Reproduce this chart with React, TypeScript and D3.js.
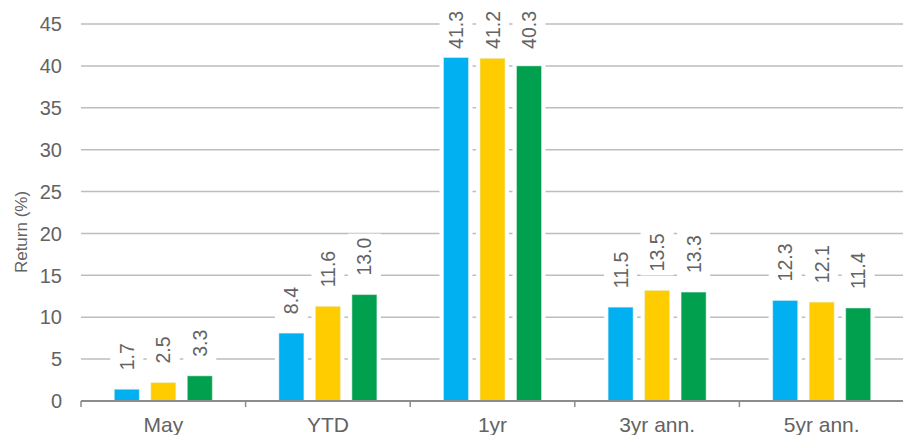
import React from "react";
import * as d3 from "d3";

const categories = ["May", "YTD", "1yr", "3yr ann.", "5yr ann."];
const seriesA = [1.7, 8.4, 41.3, 11.5, 12.3];
const seriesB = [2.5, 11.6, 41.2, 13.5, 12.1];
const seriesC = [3.3, 13.0, 40.3, 13.3, 11.4];
const seriesColors = ["#00b0f0", "#ffcc00", "#00a04f"];
const yTicks = [0, 5, 10, 15, 20, 25, 30, 35, 40, 45];

const W = 903;
const H = 435;
const FONT = "'Liberation Sans', Arial, sans-serif";
const TEXT = "#636363";

export default function App() {
  const series = [seriesA, seriesB, seriesC];
  const y = d3.scaleLinear().domain([0, 45]).range([401, 24]);
  const x = d3.scaleBand<string>().domain(categories).range([81, 904]).paddingInner(0).paddingOuter(0);
  const inner = d3
    .scaleBand<string>()
    .domain(["0", "1", "2"])
    .range([-54.75, 54.75])
    .paddingInner(0.315)
    .paddingOuter(0.1575);
  const bw = inner.bandwidth();
  const labelFont = 19.5;
  const charW = (s: string) =>
    s.split("").reduce((a, c) => a + (c === "." ? 0.278 : 0.556), 0) * labelFont;
  const inset = 2.5;

  const boundaries = categories.map((c) => x(c)!).concat([x(categories[categories.length - 1])! + x.bandwidth()]);

  const marks = categories.flatMap((c, i) =>
    series.map((s, j) => {
      const v = s[i];
      const bx = x(c)! + x.bandwidth() / 2 + inner(String(j))!;
      const top = y(v) + inset;
      const cx = bx + bw / 2;
      const label = v.toFixed(1);
      const len = charW(label);
      const lb = Math.max(top - 19, 11 + len);
      return { key: c + j, j, bx, top, cx, label, len, lb };
    })
  );

  return (
    <svg width={W} height={H} style={{ position: "absolute", left: 0, top: 0 }} fontFamily={FONT}>
      <rect x={0} y={0} width={W} height={H} fill="#fff" />
      {yTicks.filter((t) => t > 0).map((t) => (
        <line key={t} x1={81} x2={W} y1={y(t)} y2={y(t)} stroke="#bdbdbd" strokeWidth={1.5} />
      ))}
      {yTicks.map((t) => (
        <text key={"t" + t} x={62} y={y(t)} dy="0.36em" textAnchor="end" fontSize={20} fill={TEXT}>
          {t}
        </text>
      ))}
      <text transform={`translate(27,232) rotate(-90)`} textAnchor="middle" fontSize={17} fill={TEXT}>
        Return (%)
      </text>
      {marks.map((m) => (
        <g key={"h" + m.key}>
          <rect x={m.bx - 4} y={m.top - 4} width={bw + 8} height={401 - m.top + 4} fill="#fff" />
          <rect x={m.cx - 16.5} y={m.lb - m.len - 4} width={33} height={m.len + 8} fill="#fff" />
        </g>
      ))}
      {marks.map((m) => (
        <g key={"b" + m.key}>
          <rect
            x={m.bx}
            y={m.top}
            width={bw}
            height={401 - m.top}
            fill={seriesColors[m.j]}
            stroke="#e8f4ec"
            strokeOpacity={0.5}
            strokeWidth={1}
          />
          <text
            transform={`translate(${m.cx + 7},${m.lb}) rotate(-90)`}
            textAnchor="start"
            fontSize={labelFont}
            fill={TEXT}
          >
            {m.label}
          </text>
        </g>
      ))}
      {categories.map((c) => (
        <text key={"c" + c} x={x(c)! + x.bandwidth() / 2} y={432} textAnchor="middle" fontSize={21} fill={TEXT}>
          {c}
        </text>
      ))}
      <line x1={81} x2={W} y1={401} y2={401} stroke="#8c8c8c" strokeWidth={2} />
      {boundaries.map((b, i) => (
        <line key={"k" + i} x1={b} x2={b} y1={401} y2={407} stroke="#8c8c8c" strokeWidth={1.5} />
      ))}
    </svg>
  );
}
